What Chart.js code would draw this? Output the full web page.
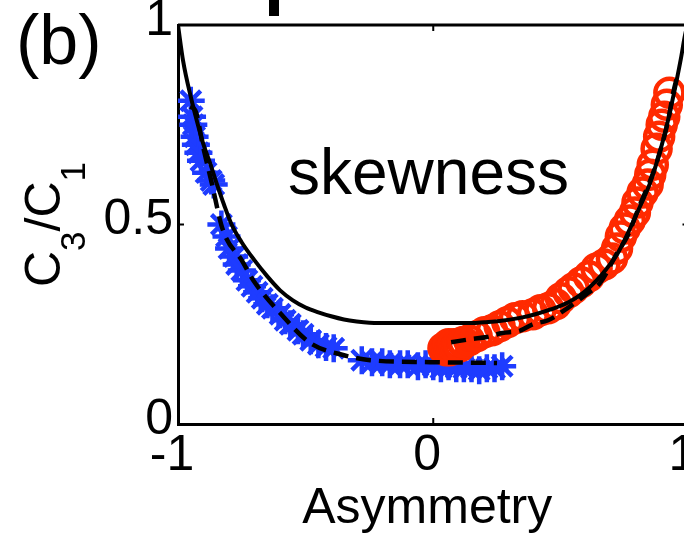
<!DOCTYPE html>
<html>
<head>
<meta charset="utf-8">
<script src="https://cdn.jsdelivr.net/npm/chart.js@4.4.1/dist/chart.umd.min.js"></script>
<style>
  html, body { margin: 0; padding: 0; background: #fff; overflow: hidden; }
  #wrap { width: 760px; height: 536px; }
  canvas { display: block; }
</style>
</head>
<body>
<div id="wrap"><canvas id="c" width="700" height="536"></canvas></div>
<script>
// Measured ratio C3/C1 versus asymmetry: negative-side samples (blue stars)
const blueX = [-0.95, -0.945, -0.94, -0.935, -0.93, -0.92, -0.91, -0.89, -0.87, -0.86,
  -0.83, -0.81, -0.80, -0.78, -0.77, -0.75, -0.73, -0.71, -0.69, -0.67, -0.65, -0.63,
  -0.60, -0.58, -0.56, -0.53, -0.51, -0.48, -0.45, -0.42, -0.39,
  -0.28, -0.24, -0.20, -0.17, -0.13, -0.10, -0.06, -0.03, 0.00, 0.03, 0.06, 0.09,
  0.12, 0.15, 0.18, 0.21, 0.24, 0.27];
const blueY = [0.81, 0.77, 0.75, 0.72, 0.70, 0.68, 0.66, 0.63, 0.61, 0.60,
  0.50, 0.47, 0.44, 0.42, 0.40, 0.385, 0.36, 0.345, 0.33, 0.315, 0.30, 0.29,
  0.275, 0.26, 0.25, 0.235, 0.225, 0.21, 0.20, 0.193, 0.19,
  0.16, 0.155, 0.155, 0.15, 0.15, 0.15, 0.145, 0.15, 0.145, 0.14, 0.145, 0.14,
  0.14, 0.14, 0.135, 0.14, 0.14, 0.145];

// Positive-side samples (red circles)
const redX = [0.04, 0.05, 0.055, 0.06, 0.065, 0.07, 0.075, 0.08, 0.085, 0.09, 0.095, 0.10,
  0.105, 0.115, 0.12, 0.14, 0.17, 0.20, 0.23, 0.26, 0.29, 0.32, 0.35, 0.39, 0.42, 0.45,
  0.48, 0.50, 0.53, 0.55, 0.58, 0.61, 0.64, 0.67, 0.70, 0.72, 0.735, 0.75, 0.77, 0.79,
  0.80, 0.82, 0.84, 0.85, 0.86, 0.875, 0.885, 0.895, 0.905, 0.915, 0.925];
const redY = [0.19, 0.185, 0.19, 0.2, 0.185, 0.19, 0.195, 0.2, 0.19, 0.195, 0.2, 0.2,
  0.195, 0.205, 0.205, 0.21, 0.22, 0.23, 0.235, 0.245, 0.255, 0.265, 0.27, 0.275, 0.285, 0.29,
  0.30, 0.315, 0.33, 0.34, 0.355, 0.37, 0.39, 0.40, 0.415, 0.44, 0.47, 0.49, 0.51, 0.53,
  0.555, 0.58, 0.60, 0.625, 0.65, 0.69, 0.72, 0.75, 0.77, 0.80, 0.83];

// Model curve (solid)
const modelX = [-1.0, -0.98, -0.95, -0.92, -0.90, -0.875, -0.847, -0.82, -0.79, -0.75, -0.70,
  -0.65, -0.60, -0.55, -0.50, -0.45, -0.40, -0.35, -0.30, -0.25, -0.15, 0.0, 0.15, 0.20,
  0.26, 0.34, 0.40, 0.46, 0.53, 0.59, 0.64, 0.68, 0.72, 0.76, 0.81, 0.85, 0.88, 0.91,
  0.93, 0.95, 0.97, 0.985, 0.995];
const modelY = [1.0, 0.91, 0.82, 0.745, 0.70, 0.655, 0.60, 0.55, 0.50, 0.455, 0.41,
  0.37, 0.335, 0.31, 0.292, 0.28, 0.27, 0.262, 0.257, 0.254, 0.253, 0.253, 0.253, 0.255,
  0.258, 0.266, 0.275, 0.287, 0.305, 0.33, 0.36, 0.39, 0.425, 0.475, 0.545, 0.605, 0.665, 0.735,
  0.79, 0.85, 0.915, 0.97, 1.0];

// Fits to the measured points (dashed)
const fitBlueX = [-0.953, -0.933, -0.90, -0.87, -0.824, -0.75, -0.706, -0.60, -0.482,
  -0.353, -0.247, -0.012, 0.25];
const fitBlueY = [0.795, 0.787, 0.69, 0.61, 0.486, 0.41, 0.361, 0.278, 0.203,
  0.173, 0.160, 0.155, 0.153];
const fitRedX = [0.07, 0.15, 0.21, 0.27, 0.34, 0.39, 0.45, 0.525, 0.60, 0.655, 0.72,
  0.76, 0.81, 0.85, 0.88, 0.92, 0.94, 0.955];
const fitRedY = [0.205, 0.213, 0.218, 0.228, 0.234, 0.25, 0.26, 0.29, 0.325, 0.355, 0.428,
  0.47, 0.55, 0.61, 0.665, 0.76, 0.83, 0.87];

const xTickValues = [-1, 0, 1];
const xTickLabels = ['-1', '0', '1'];
const yTickValues = [0, 0.5, 1];
const yTickLabels = ['0', '0.5', '1'];

const zip = (xs, ys) => xs.map((x, i) => ({ x, y: ys[i] }));

const BLUE = '#1e3cff';
const RED = '#ff2a00';
const FONT = 'Liberation Sans, Arial, Helvetica, sans-serif';
const PLOT_RIGHT = 688; // right edge of the axes box; the panel continues past the window

// Box, inward ticks, axis titles and free text
const decor = {
  id: 'decor',
  afterDraw(chart) {
    const { ctx, chartArea: a, scales } = chart;
    const sx = scales.x, sy = scales.y;
    ctx.save();
    ctx.strokeStyle = '#000';
    ctx.lineWidth = 3;
    ctx.beginPath();
    ctx.moveTo(a.left, a.top);
    ctx.lineTo(a.right, a.top);
    ctx.lineTo(a.right, a.bottom);
    ctx.stroke();

    ctx.lineWidth = 2;
    ctx.beginPath();
    xTickValues.forEach(v => {
      const px = sx.getPixelForValue(v);
      ctx.moveTo(px, a.bottom); ctx.lineTo(px, a.bottom - 6);
      ctx.moveTo(px, a.top); ctx.lineTo(px, a.top + 6);
    });
    yTickValues.forEach(v => {
      const py = sy.getPixelForValue(v);
      ctx.moveTo(a.left, py); ctx.lineTo(a.left + 6, py);
      ctx.moveTo(a.right, py); ctx.lineTo(a.right - 6, py);
    });
    ctx.stroke();

    // fragment of the neighbouring panel above
    ctx.fillStyle = '#000';
    ctx.fillRect(269, 0, 10, 16);

    ctx.fillStyle = '#000';
    ctx.textBaseline = 'alphabetic';
    ctx.textAlign = 'left';
    ctx.font = '70px ' + FONT;
    ctx.fillText('(b)', 16, 64);
    ctx.font = '64px ' + FONT;
    ctx.fillText('skewness', 288, 194);

    // x-axis title, centred a little left of the box middle
    ctx.textAlign = 'center';
    ctx.font = '50px ' + FONT;
    ctx.fillText('Asymmetry', sx.getPixelForValue(0) - 6, 523);
    ctx.textAlign = 'left';

    // y-axis title C3/C1 with subscripts
    ctx.translate(60, 287);
    ctx.rotate(-Math.PI / 2);
    const big = '50px ' + FONT, small = '35px ' + FONT;
    let x = 0;
    const parts = [['C', big, 0], ['3', small, 25], ['/C', big, 0], ['1', small, 25]];
    parts.forEach(([t, f, dy]) => {
      ctx.font = f;
      ctx.fillText(t, x, dy);
      x += ctx.measureText(t).width;
    });
    ctx.restore();
  }
};

const noScalePadding = s => { s.paddingLeft = 0; s.paddingRight = 0; s.paddingTop = 0; s.paddingBottom = 0; };

const chart = new Chart(document.getElementById('c'), {
  type: 'scatter',
  data: {
    datasets: [
      { data: zip(modelX, modelY), showLine: true, borderColor: '#000', borderWidth: 4,
        pointRadius: 0, cubicInterpolationMode: 'monotone', order: 1 },
      { data: zip(fitBlueX, fitBlueY), showLine: true, borderColor: '#000', borderWidth: 4.5,
        borderDash: [15, 8], pointRadius: 0, cubicInterpolationMode: 'monotone', order: 0 },
      { data: zip(fitRedX, fitRedY), showLine: true, borderColor: '#000', borderWidth: 4.5,
        borderDash: [15, 8], pointRadius: 0, cubicInterpolationMode: 'monotone', order: 0 },
      { data: zip(blueX, blueY), pointStyle: 'star', pointRadius: 14, borderColor: BLUE,
        backgroundColor: BLUE, pointBorderWidth: 4.5, order: 3 },
      { data: zip(redX, redY), pointStyle: 'circle', pointRadius: 14, borderColor: RED,
        backgroundColor: 'rgba(0,0,0,0)', pointBorderWidth: 4.5, order: 2 }
    ]
  },
  options: {
    responsive: false,
    maintainAspectRatio: false,
    animation: false,
    devicePixelRatio: 1,
    layout: { padding: { top: 25, right: 12, left: 0, bottom: 0 } },
    plugins: { legend: { display: false }, tooltip: { enabled: false } },
    scales: {
      x: {
        type: 'linear', min: -1, max: 1,
        afterBuildTicks: s => { s.ticks = xTickValues.map(v => ({ value: v })); },
        afterFit: s => { s.height = 112; noScalePadding(s); },
        grid: { display: false, drawTicks: false },
        border: { display: true, color: '#000', width: 3 },
        ticks: { color: '#000', font: { family: FONT, size: 50 }, padding: 2, labelOffset: -6,
          maxRotation: 0, callback: (v, i) => xTickLabels[i] }
      },
      y: {
        type: 'linear', min: 0, max: 1,
        afterBuildTicks: s => { s.ticks = yTickValues.map(v => ({ value: v })); },
        afterFit: s => { s.width = 178; noScalePadding(s); },
        grid: { display: false, drawTicks: false },
        border: { display: true, color: '#000', width: 3 },
        ticks: { color: '#000', font: { family: FONT, size: 50 }, padding: 5, labelOffset: -4,
          callback: (v, i) => yTickLabels[i] }
      }
    }
  },
  plugins: [decor]
});

// widen the canvas until x = 1 lands on the panel's right edge
for (let k = 0; k < 4; k++) {
  const dx = Math.round(PLOT_RIGHT - chart.scales.x.getPixelForValue(xTickValues[2]));
  if (dx === 0) break;
  chart.resize(chart.width + dx, 536);
}
</script>
</body>
</html>
